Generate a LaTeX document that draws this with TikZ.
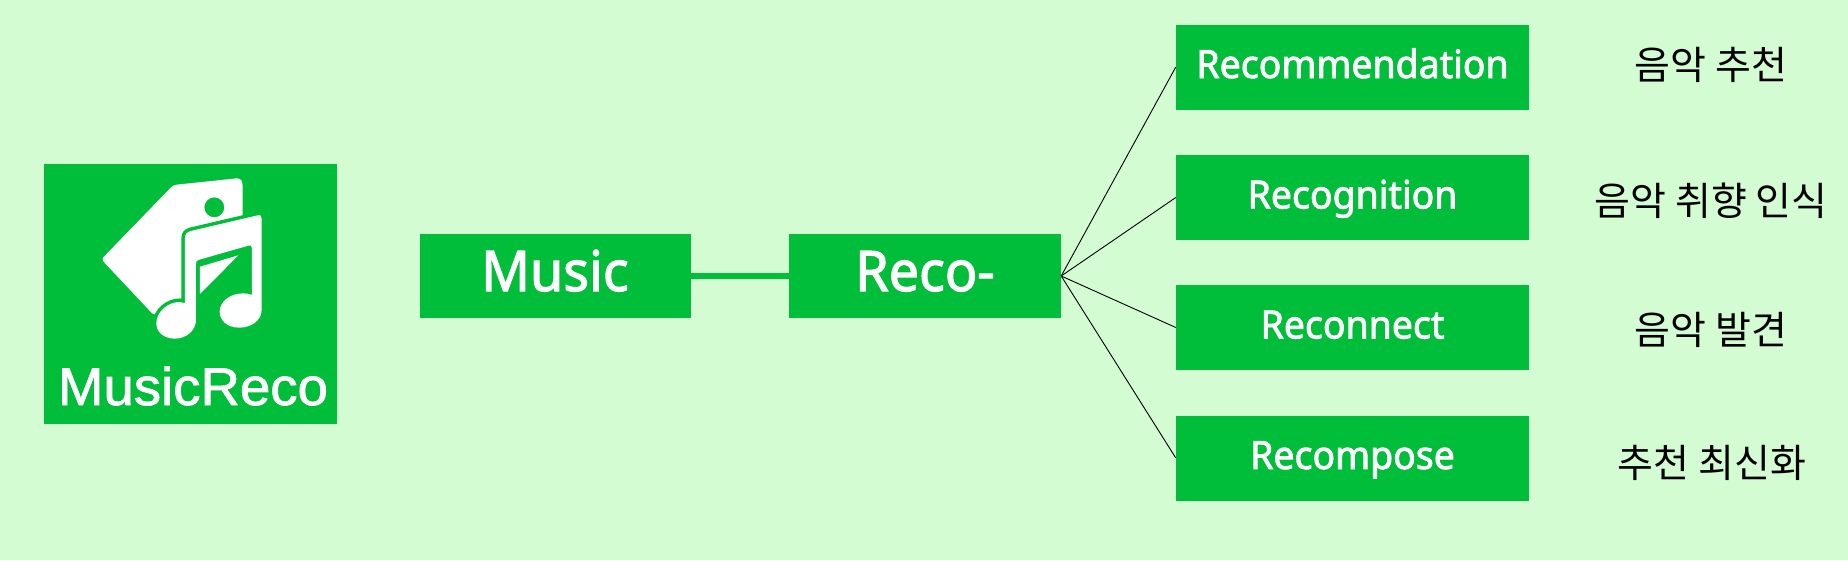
\documentclass[tikz,border=0pt]{standalone}
\usepackage{fontspec}
\newfontfamily\boxfont[FakeStretch=0.96,FakeBold=2]{Noto Sans}
\newfontfamily\korfont{Noto Sans CJK KR}
\newfontfamily\logofont[FakeStretch=1.03,FakeBold=1.5]{Liberation Sans}
\definecolor{pagegreen}{HTML}{D3FCD3}
\definecolor{boxgreen}{HTML}{00BE3A}
\tikzset{
  bigbox/.style={fill=boxgreen,text=white,inner sep=0pt,align=center,text height=57pt,text depth=27pt,font=\boxfont\fontsize{56}{60}\selectfont},
  wordbox/.style={fill=boxgreen,text=white,inner sep=0pt,align=center,text width=353pt,text height=53.5pt,text depth=31.5pt,font=\boxfont\fontsize{39}{44}\selectfont},
  korlabel/.style={text=black,inner sep=0pt,font=\korfont\fontsize{39}{44}\selectfont},
  wire/.style={draw=black,line width=0.9pt},
}
\begin{document}
\begin{tikzpicture}[x=1pt,y=-1pt]
    \path[fill=pagegreen,use as bounding box] (0,0) rectangle (1848,560);
    \node[fill=boxgreen,inner sep=0pt,minimum width=293pt,minimum height=260pt] (logo) at (190.5,294) {};
    \begin{scope}[shift={(30,150)},x=0.3333pt,y=-0.3333pt]
    \fill[white,even odd rule,rounded corners=3pt] (214,328) -- (430,105) -- (630,84) -- (638,98) -- (638,205) -- (465,240) -- (465,450) -- (372,496) -- cycle (583,172) arc (0:360:30);
    \path[fill=white,preaction={draw=boxgreen,line width=7pt}] (465,264) .. controls (465,252) and (470,247) .. (482,243) -- (683,196) .. controls (692,194) and (695,198) .. (695,207) -- (695,480) .. controls (695,510) and (665,533) .. (628,533) .. controls (590,533) and (569,510) .. (569,485) .. controls (569,455) and (600,430) .. (640,430) .. controls (650,430) and (660,432) .. (666,435) -- (666,295) .. controls (666,287) and (662,285) .. (655,287) -- (505,330) .. controls (500,332) and (498,335) .. (498,342) -- (498,510) .. controls (498,540) and (470,566) .. (435,566) .. controls (400,566) and (379,545) .. (379,520) .. controls (379,485) and (415,455) .. (450,456) -- (465,460) -- cycle;
    \fill[white] (510,350) -- (625,316) -- (510,432) -- cycle;
    \end{scope}
    \node[text=white,inner sep=0pt,anchor=base,font=\logofont\fontsize{53}{58}\selectfont] (logotext) at (193,405) {MusicReco};
    \node[bigbox,minimum width=271pt] (music) at (555,276) {Music};
    \node[bigbox,minimum width=272pt] (reco) at (925,276) {Reco-};
    \node[wordbox] (recommend) at (1352.5,67) {Recommendation};
    \node[wordbox] (recognize) at (1352.5,197.5) {Recognition};
    \node[wordbox] (reconnect) at (1352.5,327.5) {Reconnect};
    \node[wordbox] (recompose) at (1352.5,458) {Recompose};
    \node[korlabel] (kora) at (1711,65) {음악 추천};
    \node[korlabel] (korb) at (1711,201) {음악 취향 인식};
    \node[korlabel] (korc) at (1711,330) {음악 발견};
    \node[korlabel] (kord) at (1712,463) {추천 최신화};
    \draw[boxgreen,line width=6pt] (music) -- (reco);
    \draw[wire] (reco.east) -- (recommend.west);
    \draw[wire] (reco.east) -- (recognize.west);
    \draw[wire] (reco.east) -- (reconnect.west);
    \draw[wire] (reco.east) -- (recompose.west);
\end{tikzpicture}
\end{document}
